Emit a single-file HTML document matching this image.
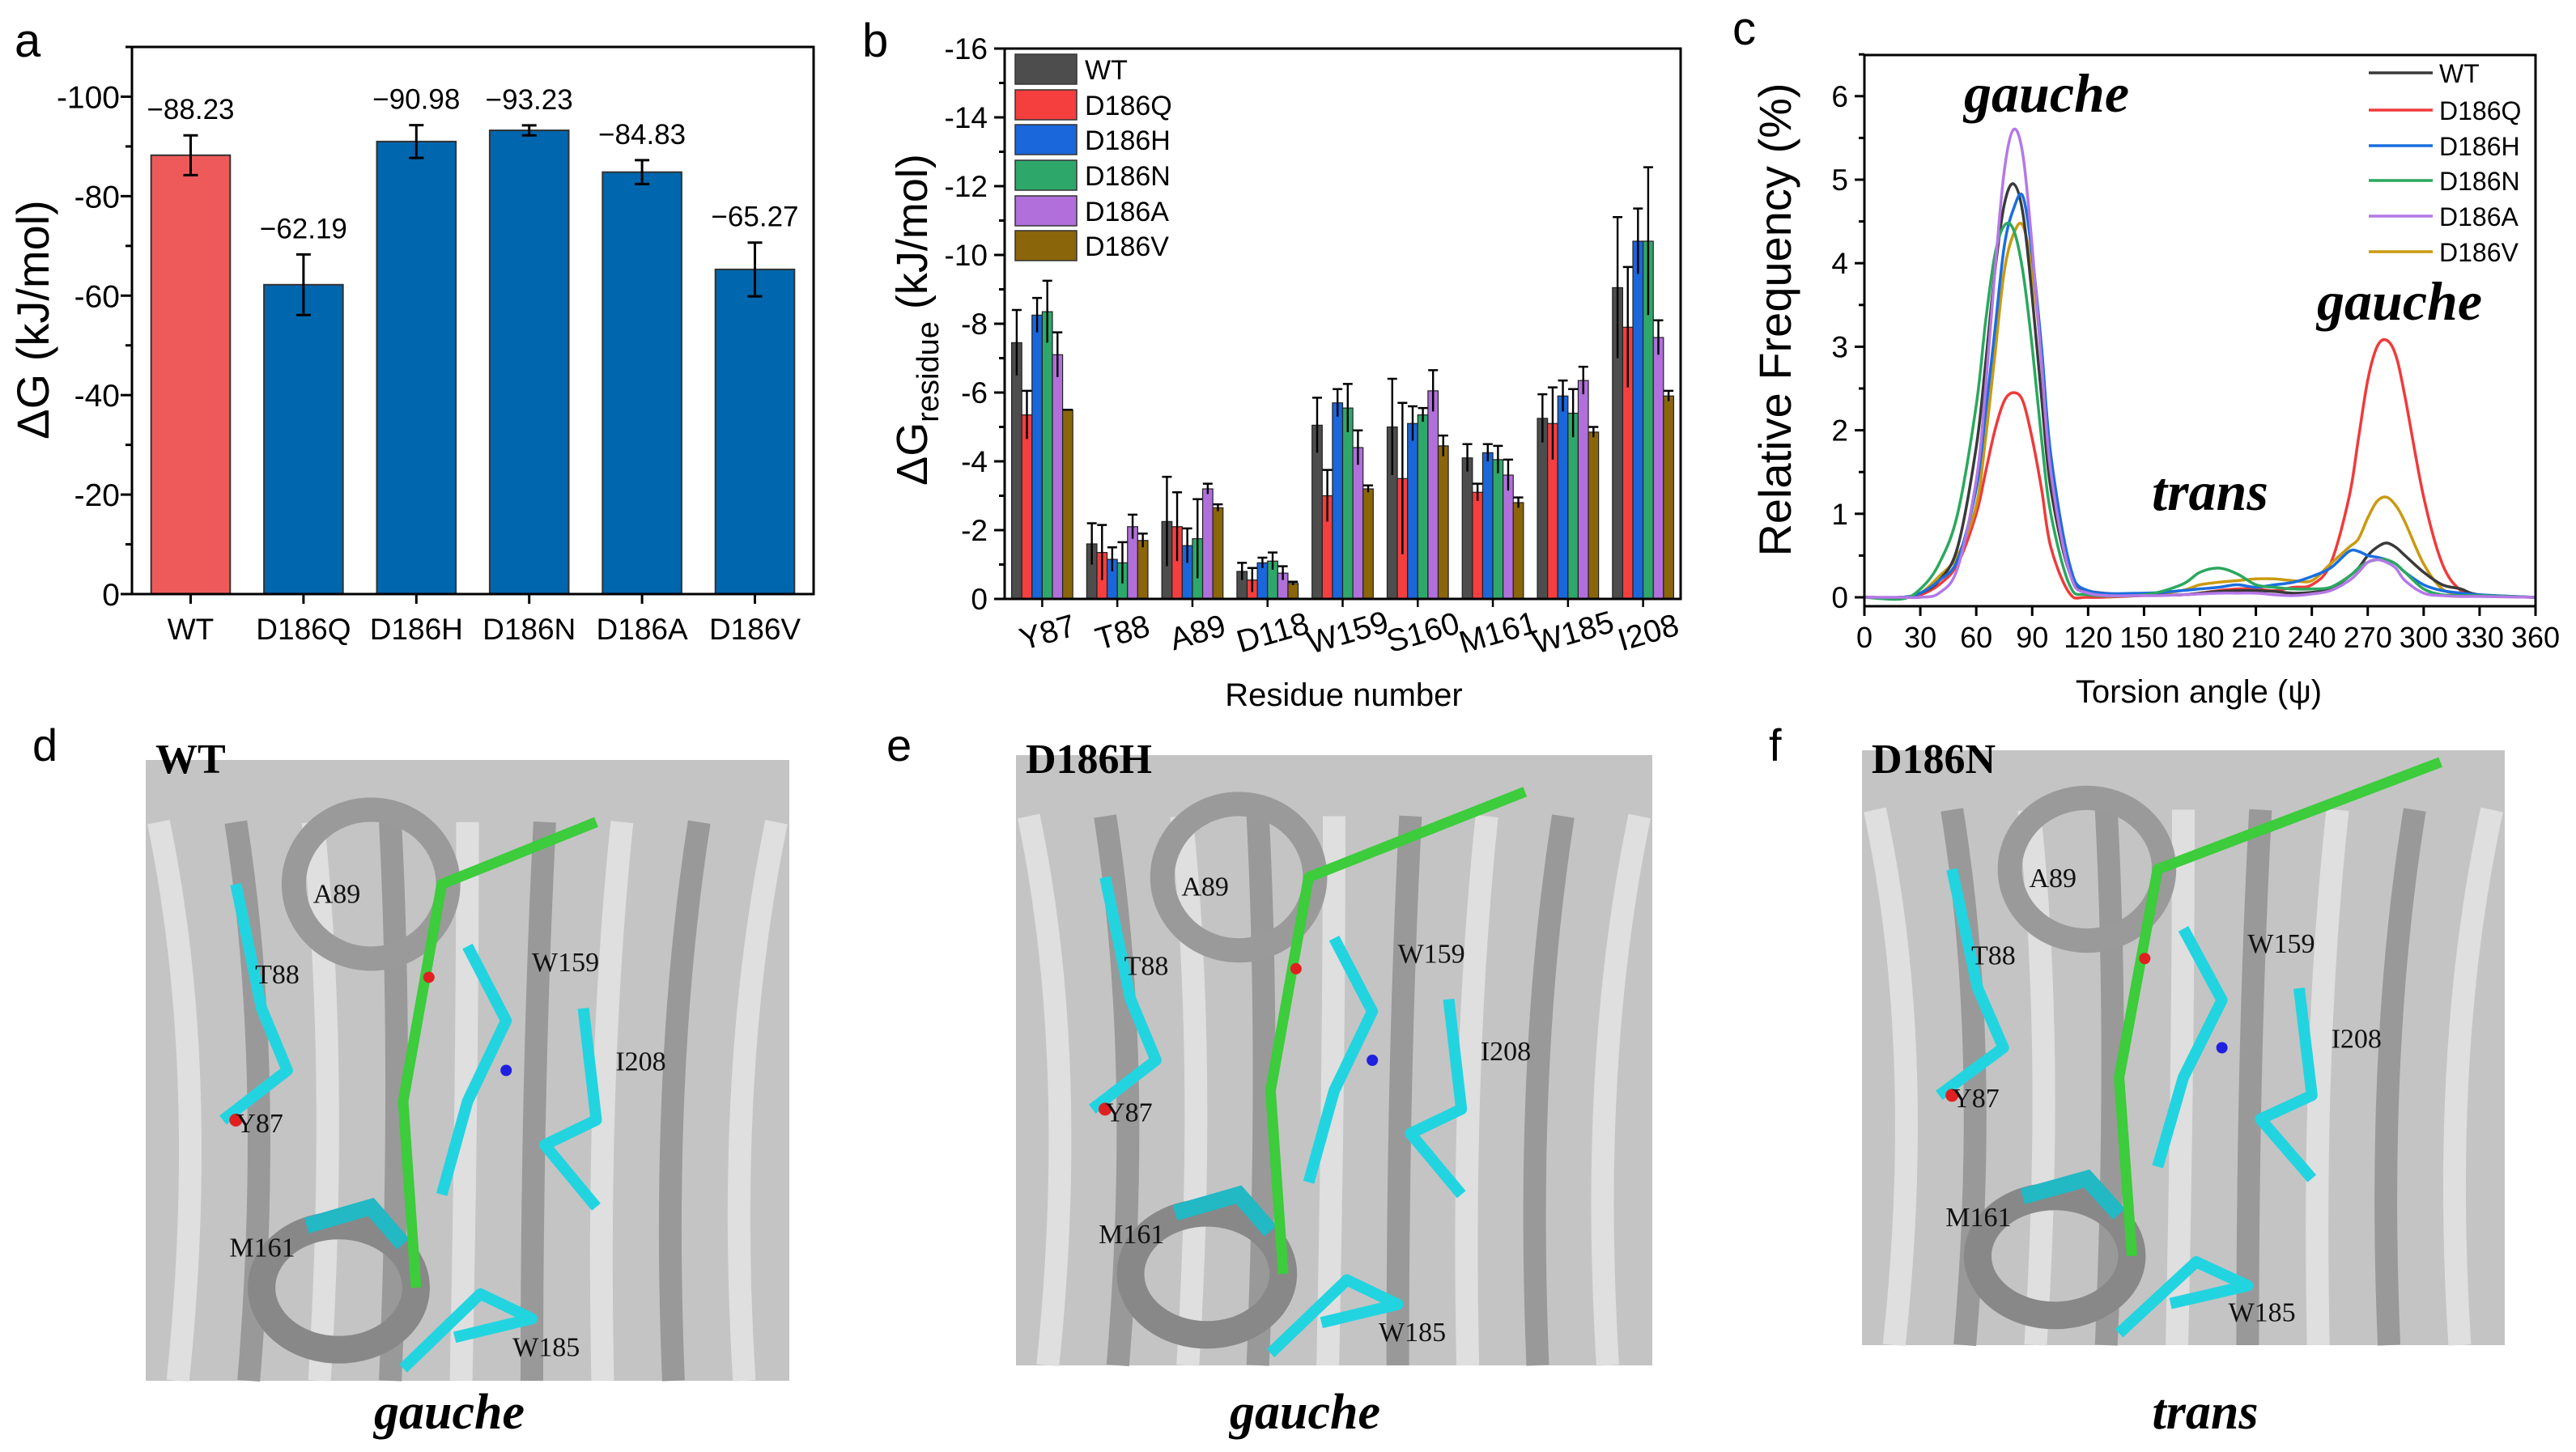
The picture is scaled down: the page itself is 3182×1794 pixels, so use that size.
<!DOCTYPE html>
<html><head><meta charset="utf-8"><style>
html,body{margin:0;padding:0;background:#fff;}
svg{display:block;}
text{font-family:"Liberation Sans",sans-serif;}
.serif{font-family:"Liberation Serif",serif;}
</style></head><body>
<svg id="fig" width="3182" height="1794" viewBox="0 0 3182 1794" xmlns="http://www.w3.org/2000/svg">
<g id="pa"></g>
<g id="pb"></g>
<g id="pc"></g>
<g id="pd"></g>
</svg>
<script>
const NS="http://www.w3.org/2000/svg";
// ---------- Panel a data ----------
const aCategories=["WT","D186Q","D186H","D186N","D186A","D186V"];
const aValues=[-88.23,-62.19,-90.98,-93.23,-84.83,-65.27];
const aErrors=[4,6.1,3.3,1,2.4,5.4];
const aLabels=["\u221288.23","\u221262.19","\u221290.98","\u221293.23","\u221284.83","\u221265.27"];
const aTicks=[0,-20,-40,-60,-80,-100];
// ---------- Panel b data ----------
const bResidues=["Y87","T88","A89","D118","W159","S160","M161","W185","I208"];
const bSeries=["WT","D186Q","D186H","D186N","D186A","D186V"];
const bWT=[-7.45,-1.6,-2.25,-0.8,-5.05,-5.0,-4.1,-5.25,-9.05];
const bQ=[-5.35,-1.35,-2.1,-0.55,-3.0,-3.5,-3.1,-5.1,-7.9];
const bH=[-8.25,-1.15,-1.55,-1.05,-5.7,-5.1,-4.25,-5.9,-10.4];
const bN=[-8.35,-1.05,-1.75,-1.1,-5.55,-5.35,-4.05,-5.4,-10.4];
const bA=[-7.1,-2.1,-3.2,-0.75,-4.4,-6.05,-3.6,-6.35,-7.6];
const bV=[-5.5,-1.7,-2.65,-0.45,-3.2,-4.45,-2.8,-4.85,-5.9];
const bErrWT=[0.95,0.6,1.3,0.25,0.8,1.4,0.4,0.7,2.05];
const bErrQ=[0.7,0.8,1.0,0.35,0.75,2.2,0.25,1.05,1.75];
const bErrH=[0.5,0.35,0.5,0.15,0.4,0.5,0.25,0.45,0.95];
const bErrN=[0.9,0.6,1.15,0.25,0.7,0.2,0.4,0.7,2.15];
const bErrA=[0.65,0.35,0.15,0.2,0.5,0.6,0.45,0.4,0.5];
const bErrV=[0,0.2,0.1,0.05,0.1,0.3,0.15,0.15,0.15];
const bTicks=[0,-2,-4,-6,-8,-10,-12,-14,-16];
// ---------- Panel c data ----------
const cAngles=[0,20,30,40,50,60,65,70,75,80,85,90,95,100,110,120,150,170,180,190,200,210,220,230,240,250,260,265,270,275,280,285,290,300,310,320,330,360];
const cWT=[0,0,0.05,0.2,0.6,1.8,2.8,3.9,4.7,4.95,4.6,3.6,2.4,1.3,0.3,0.08,0.03,0.03,0.05,0.07,0.08,0.08,0.07,0.05,0.06,0.1,0.25,0.35,0.5,0.6,0.65,0.6,0.5,0.3,0.15,0.1,0.03,0];
const cQ=[0,0,0.03,0.15,0.4,1.0,1.5,2.0,2.35,2.45,2.35,1.9,1.3,0.6,0.05,0,0.02,0.03,0.05,0.08,0.1,0.1,0.08,0.12,0.15,0.4,1.2,1.9,2.6,3.0,3.08,2.9,2.4,1.2,0.4,0.08,0.02,0];
const cH=[0,0,0.05,0.2,0.45,1.3,2.2,3.2,4.2,4.65,4.8,4.1,3.0,1.7,0.4,0.08,0.05,0.08,0.1,0.12,0.15,0.12,0.15,0.18,0.25,0.35,0.55,0.55,0.5,0.48,0.45,0.4,0.3,0.15,0.08,0.05,0.03,0];
const cN=[0,-0.02,0.1,0.4,1.0,2.3,3.3,4.1,4.45,4.4,3.9,3.0,1.9,1.0,0.15,0.03,0.03,0.15,0.3,0.35,0.28,0.15,0.12,0.1,0.1,0.12,0.25,0.35,0.42,0.45,0.45,0.4,0.3,0.1,0.03,0.02,0.02,0];
const cA=[0,0,0,0.05,0.35,1.4,2.5,3.9,5.1,5.6,5.3,4.2,2.8,1.5,0.3,0.05,0.02,0.03,0.04,0.05,0.05,0.05,0.03,0.02,0.04,0.08,0.2,0.3,0.42,0.45,0.42,0.35,0.2,0.05,0.02,0.01,0.01,0];
const cV=[0,0,0.05,0.25,0.5,1.1,1.9,2.9,3.9,4.35,4.45,3.9,2.9,1.7,0.4,0.05,0.03,0.08,0.15,0.18,0.2,0.22,0.22,0.2,0.2,0.4,0.6,0.7,0.95,1.15,1.2,1.1,0.9,0.4,0.1,0.04,0.02,0];
const cXTicks=[0,30,60,90,120,150,180,210,240,270,300,330,360];
const cYTicks=[0,1,2,3,4,5,6];

function el(tag,attrs,parent,txt){const e=document.createElementNS(NS,tag);for(const k in attrs)e.setAttribute(k,attrs[k]);if(txt!==undefined)e.textContent=txt;parent.appendChild(e);return e;}

// ===== Panel a =====
(function(){
const g=document.getElementById('pa');
const L=163,R=1005,T=58,B=734;
const y=v=>B-(-v)/110*(B-T);
const xc=i=>L+(i+0.52)*((R-L)/6.04);
const step=(R-L)/6.04;
let t=el('text',{x:18,y:70,'font-size':58},g,'a');

aCategories.forEach((c,i)=>{
 const v=aValues[i],w=step*0.7;
 const r=el('rect',{x:xc(i)-w/2,y:y(v),width:w,height:B-y(v),fill:i==0?'#ee5a5a':'#0066ad',stroke:'#333','stroke-width':2},g);
 
 const e1=y(v-aErrors[i]),e2=y(v+aErrors[i]);
 const eb=el('path',{d:`M${xc(i)},${e1}V${e2}M${xc(i)-9},${e1}h18M${xc(i)-9},${e2}h18`,stroke:'#000','stroke-width':3,fill:'none'},g);
 
 const lb=el('text',{x:xc(i),y:e1-20,'font-size':35,'text-anchor':'middle'},g,aLabels[i]);
 
 const xl=el('text',{x:xc(i),y:790,'font-size':37,'text-anchor':'middle'},g,c);
 
 el('line',{x1:xc(i),x2:xc(i),y1:B,y2:B+12,stroke:'#000','stroke-width':3},g);
});
const ax=el('rect',{x:L,y:T,width:R-L,height:B-T,fill:'none',stroke:'#000','stroke-width':3},g);

for(let v=0;v>=-110;v-=10){const major=v%20==0;el('line',{x1:L-(major?14:8),x2:L,y1:y(v),y2:y(v),stroke:'#000','stroke-width':3},g);}
aTicks.forEach(v=>{const tl=el('text',{x:148,y:y(v)+14,'font-size':39,'text-anchor':'end'},g,v==0?'0':String(v));
 });
const yt=el('text',{x:0,y:0,'font-size':56,'text-anchor':'middle',transform:'translate(60,395) rotate(-90)'},g,'\u0394G (kJ/mol)');

})();

// ===== Panel b =====
(function(){
const g=document.getElementById('pb');
const L=1241,R=2076,T=60,B=740;
const y=v=>B-(-v)/16*(B-T);
const gw=(R-L)/9,bw=12.6;
const colors=['#4d4d4d','#f53e3e','#1a66db','#2ea86a','#b06fdb','#8a650a'];
const vals=[bWT,bQ,bH,bN,bA,bV],errs=[bErrWT,bErrQ,bErrH,bErrN,bErrA,bErrV];
let t=el('text',{x:1065,y:70,'font-size':58},g,'b');

bResidues.forEach((res,i)=>{
 const c0=L+(i+0.5)*gw-3*bw;
 vals.forEach((arr,s)=>{
  const x0=c0+s*bw,v=arr[i];
  const r=el('rect',{x:x0,y:y(v),width:bw,height:B-y(v),fill:colors[s],stroke:'#222','stroke-width':1.2},g);
  
  const et=y(v-errs[s][i]),eb=y(v+errs[s][i]),xm=x0+bw/2;
  const e=el('path',{d:`M${xm},${eb}V${et}M${xm-6},${et}h12`,stroke:'#000','stroke-width':2.4,fill:'none'},g);
  
 });
 const xl=el('text',{x:0,y:0,'font-size':39,'text-anchor':'middle',transform:`translate(${L+(i+0.5)*gw+10},${794}) rotate(-16)`},g,res);
 
 el('line',{x1:L+(i+0.5)*gw,x2:L+(i+0.5)*gw,y1:B,y2:B+10,stroke:'#000','stroke-width':2.5},g);
});
const ax=el('rect',{x:L,y:T,width:R-L,height:B-T,fill:'none',stroke:'#000','stroke-width':3},g);

for(let v=0;v>=-16;v-=1){const major=v%2==0;el('line',{x1:L-(major?13:7),x2:L,y1:y(v),y2:y(v),stroke:'#000','stroke-width':3},g);}
bTicks.forEach(v=>{const tl=el('text',{x:1220,y:y(v)+13,'font-size':37,'text-anchor':'end'},g,String(v));
 });
bSeries.forEach((s,k)=>{
 const yy=[85,129,172,216,260,303][k];
 const lg=el('g',{},g);
 
 el('rect',{x:1254,y:yy-18,width:76,height:37,fill:colors[k],stroke:'#333','stroke-width':1.5},lg);
 el('text',{x:1340,y:yy+13,'font-size':34},lg,s);
});
const yt=el('text',{x:0,y:0,'font-size':54,'text-anchor':'middle',transform:'translate(1145,395) rotate(-90)'},g);

el('tspan',{},yt,'\u0394G');el('tspan',{'font-size':38,dy:14},yt,'residue');el('tspan',{dy:-14},yt,' (kJ/mol)');
const xt=el('text',{x:1660,y:872,'font-size':40,'text-anchor':'middle'},g,'Residue number');

})();

// ===== Panel c =====
(function(){
const g=document.getElementById('pc');
const L=2303,R=3132,T=68,B=749;
const x=a=>L+a/360*(R-L);
const y=v=>738-v*103.2;
let t=el('text',{x:2140,y:55,'font-size':58},g,'c');

const names=['WT','D186Q','D186H','D186N','D186A','D186V'];
const colors=['#3a3a3a','#f03a3a','#1a6ee0','#2aa85e','#b478e6','#c99a10'];
const series=[cWT,cQ,cH,cN,cA,cV];
const order=[1,5,0,2,3,4];
order.forEach(k=>{
 const arr=series[k];const pts=cAngles.map((a,i)=>[x(a),y(arr[i])]);
 let d=`M${pts[0][0]},${pts[0][1]}`;
 for(let i=0;i<pts.length-1;i++){const p0=pts[Math.max(0,i-1)],p1=pts[i],p2=pts[i+1],p3=pts[Math.min(pts.length-1,i+2)];
  d+=`C${p1[0]+(p2[0]-p0[0])/6},${p1[1]+(p2[1]-p0[1])/6} ${p2[0]-(p3[0]-p1[0])/6},${p2[1]-(p3[1]-p1[1])/6} ${p2[0]},${p2[1]}`;}
 const p=el('path',{d:d,fill:'none',stroke:colors[k],'stroke-width':3.5},g);
 
});
const ax=el('rect',{x:L,y:T,width:R-L,height:B-T,fill:'none',stroke:'#000','stroke-width':3},g);

cXTicks.forEach(a=>{el('line',{x1:x(a),x2:x(a),y1:B,y2:B+12,stroke:'#000','stroke-width':3},g);
 const tl=el('text',{x:x(a),y:800,'font-size':36,'text-anchor':'middle'},g,String(a));
 });
for(let v=0;v<=6.5;v+=0.5){const major=Math.abs(v-Math.round(v))<0.01;el('line',{x1:L-(major?12:7),x2:L,y1:y(v),y2:y(v),stroke:'#000','stroke-width':3},g);}
cYTicks.forEach(v=>{const tl=el('text',{x:2283,y:y(v)+13,'font-size':37,'text-anchor':'end'},g,String(v));
 });
names.forEach((s,k)=>{
 const yy=[90,136,180,223,267,311][k];
 const lg=el('g',{},g);
 
 el('line',{x1:2926,x2:3005,y1:yy,y2:yy,stroke:colors[k],'stroke-width':3.5},lg);
 el('text',{x:3013,y:yy+12,'font-size':32},lg,s);
});
const yt=el('text',{x:0,y:0,'font-size':56,'text-anchor':'middle',transform:'translate(2212,395) rotate(-90)'},g,'Relative Frequency (%)');

const xt=el('text',{x:2716,y:868,'font-size':40,'text-anchor':'middle'},g,'Torsion angle (\u03c8)');

[['gauche',2528,138,'annotation-gauche-1'],['trans',2730,630,'annotation-trans'],['gauche',2964,395,'annotation-gauche-2']].forEach(a=>{
 const tx=el('text',{x:a[1],y:a[2],'font-size':68,'font-weight':'bold','font-style':'italic','text-anchor':'middle','class':'serif'},g,a[0]);
 });
})();

// ===== Structure panels d,e,f (illustrative) =====
(function(){
const g=document.getElementById('pd');
const panels=[
 {L:'d',lx:40,name:'WT',x0:180,x1:975,y0:939,y1:1706,cap:'gauche',capx:555},
 {L:'e',lx:1095,name:'D186H',x0:1255,x1:2041,y0:933,y1:1687,cap:'gauche',capx:1612},
 {L:'f',lx:2185,name:'D186N',x0:2300,x1:3094,y0:927,y1:1662,cap:'trans',capx:2724}];
const labs=[['A89',0.26,0.23],['T88',0.17,0.36],['W159',0.6,0.34],['I208',0.73,0.5],['Y87',0.14,0.6],['M161',0.13,0.8],['W185',0.57,0.96]];
panels.forEach((p,k)=>{
 const pg=el('g',{},g);
 
 const w=p.x1-p.x0,h=p.y1-p.y0;
 el('rect',{x:p.x0,y:p.y0,width:w,height:h,fill:'#c4c4c4'},pg);
 for(let i=0;i<9;i++){
  el('path',{d:`M${p.x0+w*(0.05+i*0.11)},${p.y1} Q${p.x0+w*(0.1+i*0.1)},${p.y0+h*0.5} ${p.x0+w*(0.02+i*0.12)},${p.y0+h*0.1}`,stroke:i%2?'#8f8f8f':'#e6e6e6','stroke-width':28,fill:'none',opacity:0.8},pg);
 }
 el('ellipse',{cx:p.x0+w*0.35,cy:p.y0+h*0.2,rx:w*0.12,ry:h*0.12,fill:'none',stroke:'#9a9a9a','stroke-width':30},pg);
 el('ellipse',{cx:p.x0+w*0.3,cy:p.y0+h*0.85,rx:w*0.12,ry:h*0.1,fill:'none',stroke:'#888','stroke-width':34},pg);
 el('polyline',{points:`${p.x0+w*0.14},${p.y0+h*0.2} ${p.x0+w*0.18},${p.y0+h*0.4} ${p.x0+w*0.22},${p.y0+h*0.5} ${p.x0+w*0.12},${p.y0+h*0.58}`,stroke:'#22d4e0','stroke-width':14,fill:'none','stroke-linejoin':'round'},pg);
 el('polyline',{points:`${p.x0+w*0.5},${p.y0+h*0.3} ${p.x0+w*0.56},${p.y0+h*0.42} ${p.x0+w*0.5},${p.y0+h*0.55} ${p.x0+w*0.46},${p.y0+h*0.7}`,stroke:'#22d4e0','stroke-width':14,fill:'none','stroke-linejoin':'round'},pg);
 el('polyline',{points:`${p.x0+w*0.68},${p.y0+h*0.4} ${p.x0+w*0.7},${p.y0+h*0.58} ${p.x0+w*0.62},${p.y0+h*0.62} ${p.x0+w*0.7},${p.y0+h*0.72}`,stroke:'#22d4e0','stroke-width':14,fill:'none','stroke-linejoin':'round'},pg);
 el('polyline',{points:`${p.x0+w*0.4},${p.y0+h*0.98} ${p.x0+w*0.52},${p.y0+h*0.86} ${p.x0+w*0.6},${p.y0+h*0.9} ${p.x0+w*0.48},${p.y0+h*0.93}`,stroke:'#22d4e0','stroke-width':14,fill:'none','stroke-linejoin':'round'},pg);
 el('polyline',{points:`${p.x0+w*0.25},${p.y0+h*0.75} ${p.x0+w*0.35},${p.y0+h*0.72} ${p.x0+w*0.4},${p.y0+h*0.78}`,stroke:'#22b8c4','stroke-width':20,fill:'none'},pg);
 el('polyline',{points:`${p.x0+w*0.42},${p.y0+h*0.85} ${p.x0+w*0.4},${p.y0+h*0.55} ${p.x0+w*0.46},${p.y0+h*0.2} ${p.x0+w*(0.7+k*0.1)},${p.y0+h*(0.1-k*0.04)}`,stroke:'#3ccc3c','stroke-width':13,fill:'none','stroke-linejoin':'round'},pg);
 el('circle',{cx:p.x0+w*0.44,cy:p.y0+h*0.35,r:7,fill:'#e02020'},pg);
 el('circle',{cx:p.x0+w*0.14,cy:p.y0+h*0.58,r:8,fill:'#e02020'},pg);
 el('circle',{cx:p.x0+w*0.56,cy:p.y0+h*0.5,r:7,fill:'#2020e0'},pg);
 labs.forEach(l=>{const tl=el('text',{x:p.x0+w*l[1],y:p.y0+h*l[2],'font-size':34,'class':'serif',fill:'#111'},pg,l[0]);
  });
 const lt=el('text',{x:p.lx,y:940,'font-size':56},pg,p.L);
 
 const nm=el('text',{x:p.x0+12,y:955,'font-size':52,'font-weight':'bold','class':'serif'},pg,p.name);
 
 const cp=el('text',{x:p.capx,y:1765,'font-size':62,'font-weight':'bold','font-style':'italic','text-anchor':'middle','class':'serif'},pg,p.cap);
 
});
})();
</script>
</body></html>
